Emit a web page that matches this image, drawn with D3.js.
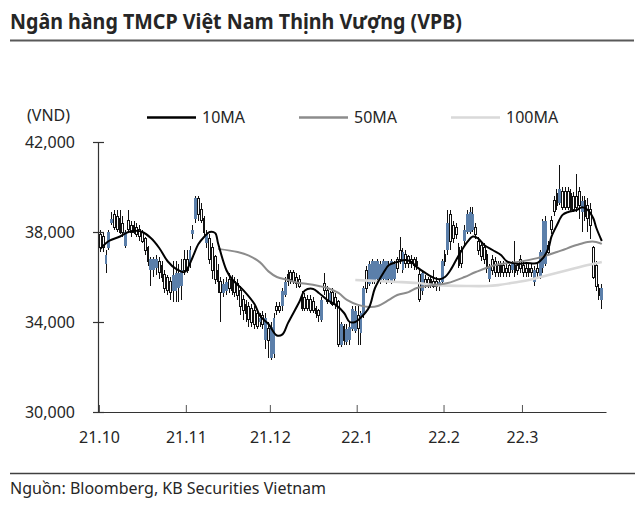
<!DOCTYPE html>
<html><head><meta charset="utf-8">
<script src="https://cdn.jsdelivr.net/npm/d3@7"></script>
<style>
body{margin:0;background:#fff}
svg{display:block}
text{font-family:"Noto Sans",sans-serif}
</style></head>
<body><svg id="chart" width="640" height="505"></svg>
<script>
// ---- data (one entry per calendar day starting at startDate) ----
const startDate = "2021-10-01";
const endDate = "2022-03-31";
const open  = [37900,37800,36600,37300,38400,38800,38700,38600,38400,37400,38500,38300,38300,38200,38100,38000,37700,37300,36300,36300,36400,36700,36500,36100,36000,35800,35400,35400,35500,35600,36800,36800,36600,37900,38600,39500,39000,38600,37500,37700,37300,36900,36300,35800,35300,35400,35900,35900,35800,35700,35400,35000,34800,34700,34600,34500,34400,34000,34300,33200,33700,32400,32600,34700,34700,34700,35200,36100,36200,36200,36000,35900,35100,35100,35000,35000,34900,34600,34500,34100,35700,35400,34900,35300,35100,34900,33000,33800,33100,33200,33700,33600,34300,33500,34300,36300,35700,35800,35800,35900,35800,35900,35800,35900,35800,35900,36800,37200,36300,37000,36900,36800,36800,36700,36100,35400,35900,35900,35900,35800,35800,35600,35800,37000,37200,38800,38300,38200,37300,37200,37600,38000,38000,38100,38200,37600,37400,37300,37000,35900,36800,36700,36500,36500,36500,36400,36500,36300,36500,36500,36800,36500,36400,36400,36400,35800,36400,36000,36400,36600,37400,38500,39400,39700,39300,39800,39800,39800,39700,39600,39600,39800,38900,39400,39200,39000,37300,36500,35500,35000];
const high  = [38100,38000,37200,38100,38900,39000,39000,39000,38700,38100,39000,38500,38500,38400,38300,38100,37800,37400,36900,36900,37000,36900,36700,36300,36100,36000,36700,36700,36600,36800,37200,37200,37400,38300,39600,39600,39300,38700,38100,37900,37500,37000,36600,36000,35900,36000,36200,36100,36000,35900,35600,35200,35000,34900,34800,34700,34600,34400,34500,34400,34000,34000,34400,34900,34900,35500,36000,36300,36300,36300,36200,36100,35400,35300,35200,35200,35100,34700,34600,35100,36200,35600,35400,35500,35300,35000,34000,33900,33900,34000,34700,34700,34700,34500,35600,36500,36700,36800,36700,36800,36700,36800,36700,36700,36800,36700,36900,37800,37300,37200,37000,37000,36900,36900,36300,36300,36100,36000,36000,36300,36000,35900,36800,37200,39000,39000,38500,38400,37500,37400,38300,39000,39100,39100,38400,37800,37600,37500,37200,36600,37000,36900,36700,36700,36700,36600,36600,36700,37600,36700,37000,36700,36600,36600,36600,36500,36600,37200,38600,38700,37600,38700,39600,39900,41000,40000,40000,40000,39900,39800,40600,40000,39600,39600,39500,39300,37400,36700,35700,35700];
const low   = [37100,37100,36200,37200,38300,38100,38000,37900,37800,37300,38000,37800,37900,37800,37600,37500,37000,36500,35600,36000,36100,35900,35800,35300,35200,35000,34900,34900,34900,35000,36100,36200,36400,37700,38400,38500,38400,37800,37300,36600,35900,35700,35300,34000,35100,35200,35300,35200,35100,35000,34300,34100,34000,33800,33800,33700,33700,33800,33700,32800,32400,32300,32400,34300,34400,34500,35100,35600,35700,35700,35500,35500,34500,34500,34500,34400,34400,34200,34000,34000,35200,34800,34800,34700,34600,32900,32900,33000,33000,33000,33600,33500,33000,33000,34200,35300,35600,35700,35700,35700,35700,35800,35700,35800,35700,35800,36200,36600,36200,36400,36400,36400,36300,36300,34900,35200,35500,35500,35500,35500,35400,35400,35700,36500,37000,37200,37500,37700,36400,36400,37400,37900,37900,38000,37700,37000,36700,36600,36200,35800,36100,36000,36000,36000,36000,36000,36000,36200,36000,36100,36200,36000,36000,36000,36000,35600,36000,35900,36200,36500,37000,37900,38700,39000,39200,39000,39000,39000,38900,38900,38900,38600,38000,38500,38000,37700,35900,35400,35000,34600];
const close = [37300,37300,37000,38000,38600,38200,38100,38000,38000,38000,38100,38000,38000,37900,37800,37600,37200,36700,36800,36800,36800,36200,36000,35500,35400,35300,36100,36200,36200,36300,36300,36300,37200,38100,39500,38800,38500,38000,37900,36800,36300,35900,35800,35300,35700,35800,35500,35400,35300,35200,34700,34500,34400,34100,34000,33900,33800,34200,33900,34200,33200,33800,34200,34500,34500,35400,35800,35800,35900,35800,35700,35600,34600,34600,34600,34500,34500,34400,34300,35000,35400,34900,35300,34800,34800,33000,33900,33200,33700,33800,34600,34500,33700,34400,35500,35500,36600,36700,36700,36700,36600,36700,36700,36600,36700,36600,36400,36800,37100,36600,36600,36600,36500,36500,35000,36200,35700,35700,35700,35600,35600,35800,36700,36700,38400,37600,37700,37900,36500,36600,38100,38800,38900,38800,37900,37200,36900,36800,36400,36500,36300,36200,36200,36200,36200,36200,36200,36600,36200,36300,36400,36200,36200,36200,36200,36300,36200,37100,38500,38500,37100,38100,38900,39200,39900,39100,39100,39100,39000,39000,39100,39200,39400,38700,38600,38300,36000,35600,35200,35500];

// moving averages, read at sampled days (day index from startDate)
const ma10Day  = [0,3,7,10,13,15,18,21,24,27,30,31,33,35,37,39,41,42,45,47,51,55,57,60,63,65,67,71,73,76,78,81,84,87,89,91,93,96,98,101,103,106,109,111,113,116,119,121,123,125,128,131,133,135,137,140,143,145,149,152,156,158,160,161,163,165,167,170,172,174,176,177,179];
const ma10     = [37250,37600,37800,38000,38050,38000,37730,37290,36700,36360,36220,36350,36900,37470,37780,38000,37950,37500,36300,35900,35420,34800,34270,33910,33400,33450,33960,34890,35400,35470,35290,34980,34760,34400,34000,34000,34200,34670,35500,36180,36530,36670,36760,36670,36440,36180,35960,35900,36000,36310,36980,37560,37800,37700,37420,37200,36980,36710,36580,36620,36620,36840,37290,37780,38310,38760,38890,38980,39100,38980,38600,38200,37600];
const ma50Day  = [42,49,53,57,60,63,67,71,74,78,81,85,88,92,96,99,103,106,110,113,119,124,130,134,141,149,156,163,170,174,177,179];
const ma50     = [37250,37110,36950,36650,36250,36000,35870,35730,35690,35600,35510,35290,34980,34760,34670,34710,34980,35200,35330,35510,35640,35730,36000,36220,36530,36670,36840,37110,37420,37560,37560,37470];
const ma100Day = [91,99,106,113,120,131,138,142,149,153,160,167,174,179];
const ma100    = [35870,35820,35780,35730,35640,35600,35600,35640,35780,35870,36090,36310,36530,36670];

const yTicks = [30000,34000,38000,42000];
const monthTicks  = ["2021-10-01","2021-11-01","2021-12-01","2022-01-01","2022-02-01","2022-03-01"];
const monthLabels = ["21.10","21.11","21.12","22.1","22.2","22.3"];
const seriesNames = ["10MA","50MA","100MA"];

const title = "Ngân hàng TMCP Việt Nam Thịnh Vượng (VPB)";
const unit = "(VND)";
const source = "Nguồn: Bloomberg, KB Securities Vietnam";

// ---- drawing ----
const svg = d3.select("#chart");
const parse = d3.utcParse("%Y-%m-%d");
const t0 = parse(startDate);
const dayDate = d => d3.utcHour.offset(t0, Math.round(d * 24) + 12);

const x = d3.scaleUtc().domain([parse(startDate), parse(endDate)]).range([99, 606]);
const y = d3.scaleLinear().domain([30000, 42000]).range([412, 142]);

const UP = "#5b7faa";
const candles = open.map((o, i) => ({date: dayDate(i), o, h: high[i], l: low[i], c: close[i]}));
const step = x(dayDate(1)) - x(dayDate(0));

// title
svg.append("text").attr("x", 10).attr("y", 29)
  .attr("font-size", 22).attr("font-weight", "bold").attr("fill", "#262626")
  .attr("textLength", 452).attr("lengthAdjust", "spacingAndGlyphs").text(title);
svg.append("line").attr("x1", 10).attr("x2", 634).attr("y1", 40.5).attr("y2", 40.5)
  .attr("stroke", "#595959").attr("stroke-width", 2);

// unit
svg.append("text").attr("x", 27).attr("y", 121).attr("font-size", 16).attr("fill", "#262626").text(unit);

// legend
const legColors = ["#000000", "#8c8c8c", "#d9d9d9"];
const legX = [147, 299, 451];
seriesNames.forEach((n, i) => {
  svg.append("line").attr("x1", legX[i]).attr("x2", legX[i] + 49).attr("y1", 117.5).attr("y2", 117.5)
    .attr("stroke", legColors[i]).attr("stroke-width", 2.5);
  svg.append("text").attr("x", legX[i] + 55).attr("y", 123).attr("font-size", 16).attr("fill", "#262626").text(n);
});

// candles: wicks
const g = svg.append("g").attr("shape-rendering", "crispEdges");
g.selectAll("line.wick").data(candles).join("line").attr("class", "wick")
  .attr("x1", d => x(d.date)).attr("x2", d => x(d.date))
  .attr("y1", d => y(d.h)).attr("y2", d => y(d.l))
  .attr("stroke", "#111").attr("stroke-width", 1);
// bodies
g.selectAll("rect.body").data(candles).join("rect").attr("class", "body")
  .attr("x", d => d.c >= d.o ? x(d.date) - step / 2 : x(d.date) - step / 2 + 0.5)
  .attr("width", d => d.c >= d.o ? step : step - 1)
  .attr("y", d => y(Math.max(d.o, d.c)))
  .attr("height", d => Math.max(1, Math.abs(y(d.o) - y(d.c))))
  .attr("fill", d => d.c >= d.o ? UP : "#ffffff")
  .attr("stroke", d => d.c >= d.o ? "none" : "#111")
  .attr("stroke-width", 1);

// moving averages
const line = d3.line().x(d => x(dayDate(d[0]))).y(d => y(d[1])).curve(d3.curveCatmullRom.alpha(0.5));
const maSets = [[ma100Day, ma100, "#d9d9d9", 2.6], [ma50Day, ma50, "#8c8c8c", 2], [ma10Day, ma10, "#000000", 2]];
maSets.forEach(([days, vals, col, w]) => {
  svg.append("path").datum(days.map((d, i) => [d, vals[i]])).attr("d", line)
    .attr("fill", "none").attr("stroke", col).attr("stroke-width", w);
});

// y axis
const yAxis = svg.append("g").attr("transform", "translate(98,0)")
  .call(d3.axisLeft(y).tickValues(yTicks).tickFormat(d3.format(",")).tickSizeInner(5).tickSizeOuter(0).tickPadding(18));
yAxis.select(".domain").attr("stroke", "#333").attr("stroke-width", 1.2);
yAxis.selectAll(".tick line").attr("x1", 6).attr("stroke", "#333").attr("stroke-width", 1.2);
yAxis.selectAll(".tick text").attr("font-size", 16).attr("fill", "#262626").attr("font-family", "Noto Sans");

// x axis
const xAxis = svg.append("g").attr("transform", "translate(0,412)")
  .call(d3.axisBottom(x).tickValues(monthTicks.map(parse)).tickFormat((d, i) => monthLabels[i]).tickSizeInner(-7).tickSizeOuter(0).tickPadding(20));
xAxis.select(".domain").attr("stroke", "#333").attr("stroke-width", 1.2);
xAxis.selectAll(".tick line").attr("stroke", "#555").attr("stroke-width", 1);
xAxis.selectAll(".tick text").attr("font-size", 16).attr("fill", "#262626").attr("font-family", "Noto Sans");

// footer
svg.append("line").attr("x1", 10).attr("x2", 635).attr("y1", 473.5).attr("y2", 473.5)
  .attr("stroke", "#404040").attr("stroke-width", 1.5);
svg.append("text").attr("x", 10).attr("y", 494).attr("font-size", 16).attr("fill", "#262626").text(source);
</script></body></html>
